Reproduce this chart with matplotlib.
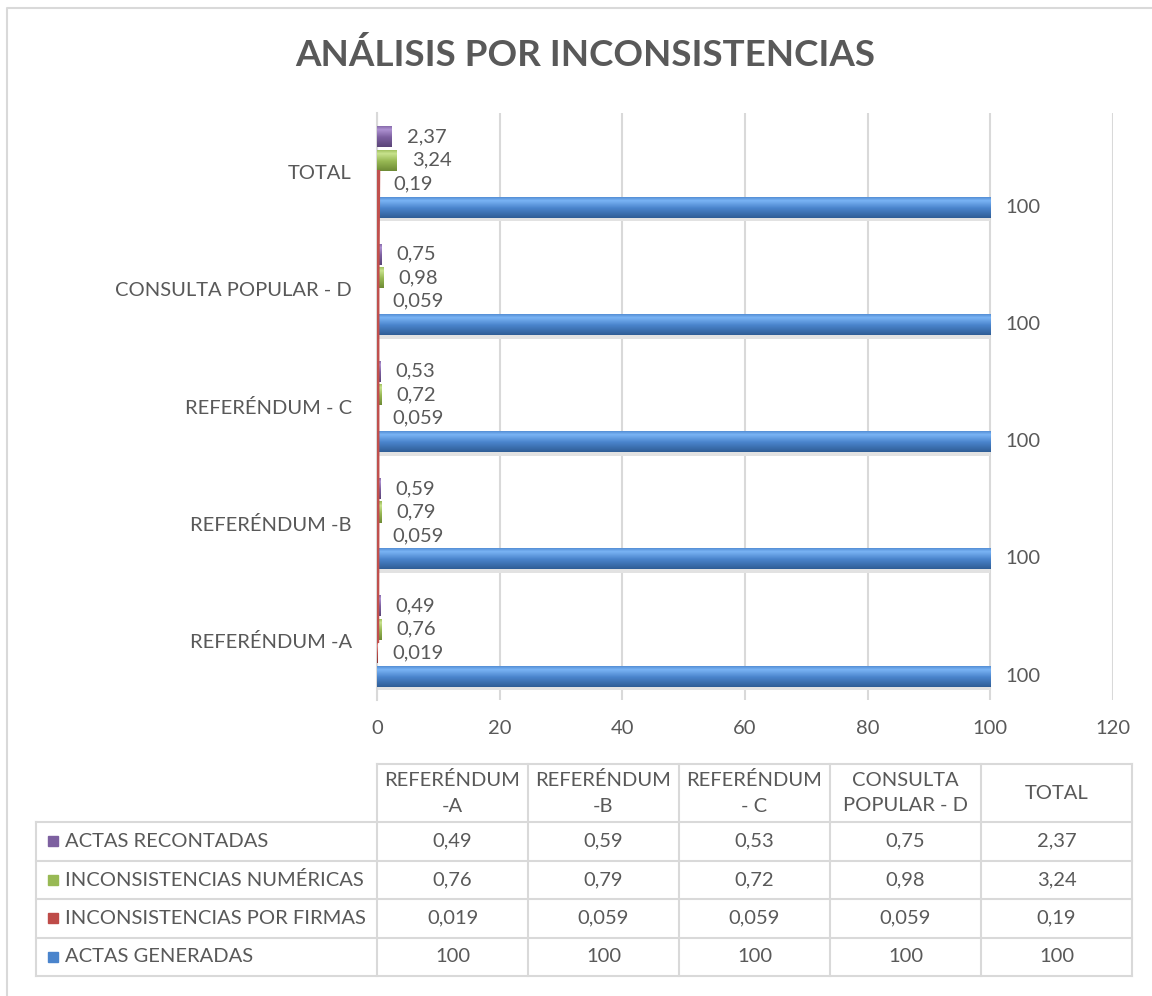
import numpy as np
import matplotlib.pyplot as plt
from matplotlib.patches import Rectangle
from matplotlib.colors import LinearSegmentedColormap

plt.rcParams['font.family'] = ['Lato', 'DejaVu Sans']

categorias = ["REFERÉNDUM -A", "REFERÉNDUM -B", "REFERÉNDUM - C",
              "CONSULTA POPULAR - D", "TOTAL"]
encabezados = ["REFERÉNDUM\n-A", "REFERÉNDUM\n-B", "REFERÉNDUM\n- C",
               "CONSULTA\nPOPULAR - D", "TOTAL"]
series = ["ACTAS GENERADAS", "INCONSISTENCIAS POR FIRMAS",
          "INCONSISTENCIAS NUMÉRICAS", "ACTAS RECONTADAS"]
actas_generadas = [100, 100, 100, 100, 100]
inc_firmas = [0.019, 0.059, 0.059, 0.059, 0.19]
inc_numericas = [0.76, 0.79, 0.72, 0.98, 3.24]
actas_recontadas = [0.49, 0.59, 0.53, 0.75, 2.37]
x_ticks = [0, 20, 40, 60, 80, 100, 120]

valores = [actas_generadas, inc_firmas, inc_numericas, actas_recontadas]
colores = ["#4A84CC", "#BE4B48", "#98B954", "#7D60A0"]
oscuros = ["#2F5D96", "#8C3331", "#6E8B35", "#5A4478"]
claros = ["#7AB4F5", "#E58683", "#C8E38E", "#AE92D2"]
TXT = "#595959"
GRID = "#D9D9D9"
FS = 14.5


def fmt(v):
    return f"{v:g}".replace(".", ",")


fig = plt.figure(figsize=(11.52, 9.96), dpi=100)
W, H = 1152, 996

# capa de fondo para borde y tabla (coordenadas en pixeles)
ov = fig.add_axes([0, 0, 1, 1])
ov.set_xlim(0, W)
ov.set_ylim(H, 0)
ov.axis("off")
ov.plot([7, 7, W], [H, 8, 8], color=GRID, lw=1.5)

ax = fig.add_axes([377 / W, 1 - 699.6 / H, 736 / W, 586.2 / H])
y = np.arange(len(categorias))
alto = 0.18
desp = [-0.3, -0.1, 0.1, 0.3]
grad = np.linspace(0, 1, 64).reshape(-1, 1)

for k in range(4):
    yy = y + desp[k]
    if k == 0:
        ax.barh(yy - 0.03, valores[k], height=alto, color="#E2E2E2", zorder=2)
    cmap = LinearSegmentedColormap.from_list(
        f"g{k}", [(0, oscuros[k]), (0.45, colores[k]), (0.8, claros[k]), (1, colores[k])])
    barras = ax.barh(yy, valores[k], height=alto, color=colores[k], zorder=3)
    for b in barras:
        im = ax.imshow(grad, extent=[b.get_x(), b.get_x() + b.get_width(),
                                     b.get_y(), b.get_y() + b.get_height()],
                       origin="lower", aspect="auto", cmap=cmap, zorder=4)
        im.set_clip_path(b)
    for yi, v in zip(yy, valores[k]):
        ax.annotate(fmt(v), (v, yi), xytext=(15, 0), textcoords="offset pixels",
                    ha="left", va="center", fontsize=FS, color=TXT)

ax.plot(inc_firmas, y, color="#C0504D", lw=3, zorder=6)

ax.set_xlim(0, 120)
ax.set_ylim(-0.5, 4.5)
ax.set_xticks(x_ticks)
ax.set_xticklabels([str(t) for t in x_ticks])
ax.set_yticks(y)
ax.set_yticklabels(categorias)
ax.tick_params(length=0, labelsize=FS, labelcolor=TXT)
ax.tick_params(axis="x", pad=15)
ax.tick_params(axis="y", pad=18)
ax.grid(axis="x", color=GRID, lw=1.5)
ax.set_axisbelow(True)
for s in ["top", "right", "bottom"]:
    ax.spines[s].set_visible(False)
ax.spines["left"].set_color(GRID)
ax.spines["left"].set_linewidth(1.5)

fig.text(0.508, 1 - 55 / H, "ANÁLISIS POR INCONSISTENCIAS", ha="center", va="center",
         fontsize=26.5, fontweight="bold", color=TXT)

# tabla de datos
x0, ancho_lab, ancho_col = 36, 341, 151
y0, alto_head, alto_fila = 764, 58, 38.5
cols = [x0 + ancho_lab + i * ancho_col for i in range(len(categorias) + 1)]
filas = [y0 + alto_head + i * alto_fila for i in range(len(series) + 1)]
ov.plot([cols[0], cols[-1]], [y0, y0], color=GRID, lw=1.5)
for fy in filas:
    ov.plot([x0, cols[-1]], [fy, fy], color=GRID, lw=1.5)
ov.plot([x0, x0], [filas[0], filas[-1]], color=GRID, lw=1.5)
for cx in cols:
    ov.plot([cx, cx], [y0, filas[-1]], color=GRID, lw=1.5)

for i, h in enumerate(encabezados):
    ov.text((cols[i] + cols[i + 1]) / 2, y0 + alto_head / 2, h, ha="center",
            va="center", fontsize=FS, color=TXT, linespacing=1.6)

for r, k in enumerate([3, 2, 1, 0]):
    yc = filas[r] + alto_fila / 2
    ov.add_patch(Rectangle((48, yc - 5), 10, 10, color=colores[k]))
    ov.text(65, yc, series[k], ha="left", va="center", fontsize=FS, color=TXT)
    for i, v in enumerate(valores[k]):
        ov.text((cols[i] + cols[i + 1]) / 2, yc, fmt(v), ha="center", va="center",
                fontsize=FS, color=TXT)

fig.savefig("out.png", dpi=100)
